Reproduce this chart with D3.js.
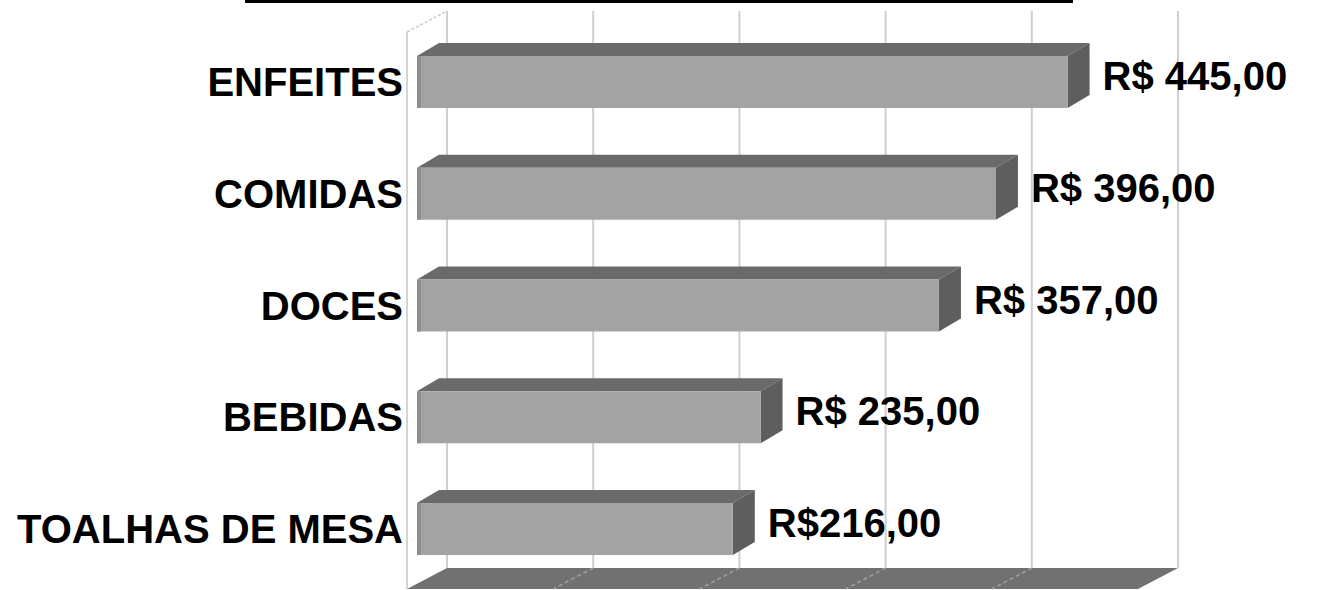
<!DOCTYPE html>
<html>
<head>
<meta charset="utf-8">
<script src="https://cdn.jsdelivr.net/npm/d3@7"></script>
<style>
  html, body { margin: 0; padding: 0; background: #ffffff; }
  svg { display: block; }
  text { font-family: "Liberation Sans", Arial, sans-serif; font-weight: bold; fill: #000; }
</style>
</head>
<body>
<svg id="chart" width="1318" height="590"></svg>
<script>
// ---- data ----
const categories = ["ENFEITES", "COMIDAS", "DOCES", "BEBIDAS", "TOALHAS DE MESA"];
const values = [445, 396, 357, 235, 216];
const valueLabels = ["R$ 445,00", "R$ 396,00", "R$ 357,00", "R$ 235,00", "R$216,00"];
const gridTicks = [0, 100, 200, 300, 400, 500];

// ---- layout ----
const W = 1318, H = 590;
const wallFrontX = 407, wallBackX = 447;     // x of value 0 on front / back plane
const depthX = 40, depthY = -21;             // full depth vector
const floorBackY = 568;
const wallTopBackY = 11;
const barFrontOffset = 10;                   // bar front plane offset from wall front
const barDX = 22, barDY = -13;               // bar depth

const svg = d3.select("#chart");

const x = d3.scaleLinear().domain([0, 500]).range([0, 731]);
const y = d3.scaleBand().domain(categories).range([26.1, 584.9])
  .paddingInner(0.535).paddingOuter(0.2675);

// top underline (cut-off title)
svg.append("rect").attr("x", 245).attr("y", 0).attr("width", 828).attr("height", 3).attr("fill", "#000");

// floor
const floorFrontY = floorBackY - depthY;
svg.append("polygon")
  .attr("points", [
    [wallBackX + x(0), floorBackY], [wallBackX + x(500), floorBackY],
    [wallFrontX + x(500), floorFrontY], [wallFrontX + x(0), floorFrontY]
  ].map(p => p.join(",")).join(" "))
  .attr("fill", "#717171");

// floor gridlines
svg.append("g").selectAll("line").data(gridTicks.slice(1, -1)).join("line")
  .attr("x1", d => wallBackX + x(d)).attr("y1", floorBackY)
  .attr("x2", d => wallFrontX + x(d)).attr("y2", floorFrontY)
  .attr("stroke", "#a0a0a0").attr("stroke-width", 1.5).attr("stroke-dasharray", "4,3");

// back wall gridlines
svg.append("g").selectAll("line").data(gridTicks).join("line")
  .attr("x1", d => wallBackX + x(d)).attr("y1", wallTopBackY)
  .attr("x2", d => wallBackX + x(d)).attr("y2", floorBackY)
  .attr("stroke", "#cfcfcf").attr("stroke-width", 2);

// left wall edges
svg.append("line").attr("x1", wallFrontX).attr("y1", wallTopBackY - depthY)
  .attr("x2", wallFrontX).attr("y2", floorFrontY)
  .attr("stroke", "#d4d4d4").attr("stroke-width", 2);
svg.append("line").attr("x1", wallFrontX).attr("y1", wallTopBackY - depthY)
  .attr("x2", wallBackX).attr("y2", wallTopBackY)
  .attr("stroke", "#c8c8c8").attr("stroke-width", 1.5).attr("stroke-dasharray", "3,2");

// bars
const data = categories.map((c, i) => ({ c, v: values[i], label: valueLabels[i] }));
const x0 = wallFrontX + barFrontOffset;
const bars = svg.append("g").selectAll("g").data(data).join("g");

bars.append("polygon") // top face
  .attr("points", d => {
    const y0 = y(d.c), x1 = x0 + x(d.v);
    return [[x0, y0], [x1, y0], [x1 + barDX, y0 + barDY], [x0 + barDX, y0 + barDY]].map(p => p.join(",")).join(" ");
  })
  .attr("fill", "#6a6a6a");

bars.append("polygon") // side face
  .attr("points", d => {
    const y0 = y(d.c), h = y.bandwidth(), x1 = x0 + x(d.v);
    return [[x1, y0], [x1 + barDX, y0 + barDY], [x1 + barDX, y0 + h + barDY], [x1, y0 + h]].map(p => p.join(",")).join(" ");
  })
  .attr("fill", "#5e5e5e");

bars.append("rect") // front face
  .attr("x", x0).attr("y", d => y(d.c))
  .attr("width", d => x(d.v)).attr("height", y.bandwidth())
  .attr("fill", "#a3a3a3");

bars.append("rect") // darker left edge shading
  .attr("x", x0).attr("y", d => y(d.c))
  .attr("width", 4).attr("height", y.bandwidth())
  .attr("fill", "#8e8e8e");

// value labels
bars.append("text")
  .attr("x", d => x0 + x(d.v) + barDX + 13)
  .attr("y", d => y(d.c) + y.bandwidth() / 2 + 8)
  .attr("font-size", 40)
  .text(d => d.label);

// category labels
svg.append("g").selectAll("text").data(categories).join("text")
  .attr("x", 403)
  .attr("y", d => y(d) + y.bandwidth() / 2 + 14)
  .attr("text-anchor", "end")
  .attr("font-size", 40)
  .text(d => d);
</script>
</body>
</html>
